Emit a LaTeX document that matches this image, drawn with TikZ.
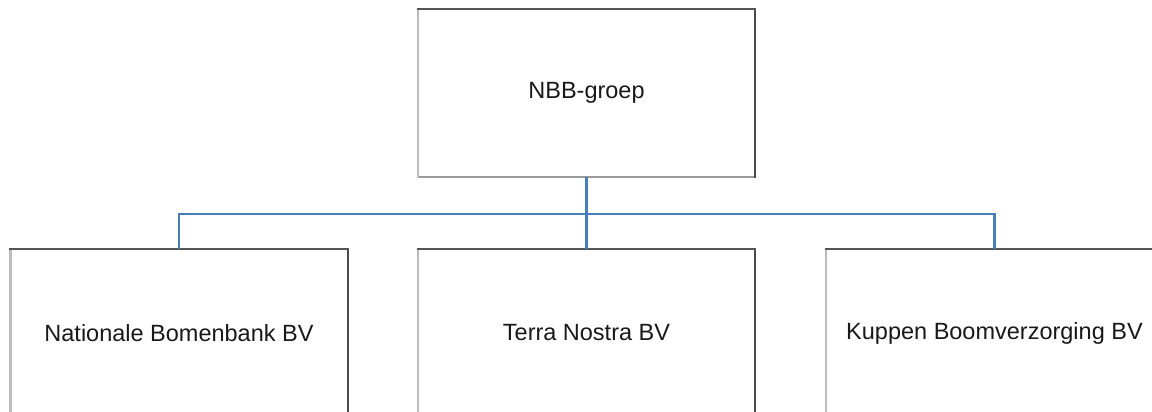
\documentclass[tikz,border=0pt]{standalone}
\usepackage{fontspec}
\setmainfont{Liberation Sans}
\definecolor{connblue}{HTML}{4A7EBB}
\definecolor{edgedark}{HTML}{555555}
\definecolor{edgeright}{HTML}{4A4A4A}
\definecolor{edgelight}{HTML}{BDBDBD}
\definecolor{edgebottom}{HTML}{9A9A9A}
\tikzset{
  x=1pt, y=-1pt,
  orgbox/.style={fill=white, minimum width=337pt, minimum height=168pt, inner sep=0pt, font=\fontsize{23.5}{28}\selectfont, text=black!90, anchor=center},
  edge/.style={line width=2.4pt, line cap=rect},
  conn/.style={draw=connblue, line width=2.2pt}
}
\begin{document}
\begin{tikzpicture}
\useasboundingbox (0,0) rectangle (1152,412);
\clip (0,0) rectangle (1152,412);
\fill[white] (0,0) rectangle (1152,412);
\node[orgbox] (top) at (586.5,93) {NBB-groep};
\node[orgbox] (left) at (179,333) {Nationale Bomenbank BV};
\node[orgbox] (mid) at (586.5,333) {Terra Nostra BV};
\node[orgbox] (right) at (994.5,333) {Kuppen Boomverzorging BV};
\foreach \b in {top,left,mid,right}{
  \draw[edge, draw=edgebottom] (\b.south west) -- (\b.south east);
  \draw[edge, draw=edgelight] (\b.south west) -- (\b.north west);
  \draw[edge, draw=edgeright] (\b.north east) -- (\b.south east);
  \draw[edge, draw=edgedark] (\b.north west) -- (\b.north east);
}
\coordinate (bus) at (586.5,214);
\draw[conn] (top.south) -- (mid.north);
\draw[conn] (left.north) |- (bus) -| (right.north);
\end{tikzpicture}
\end{document}
